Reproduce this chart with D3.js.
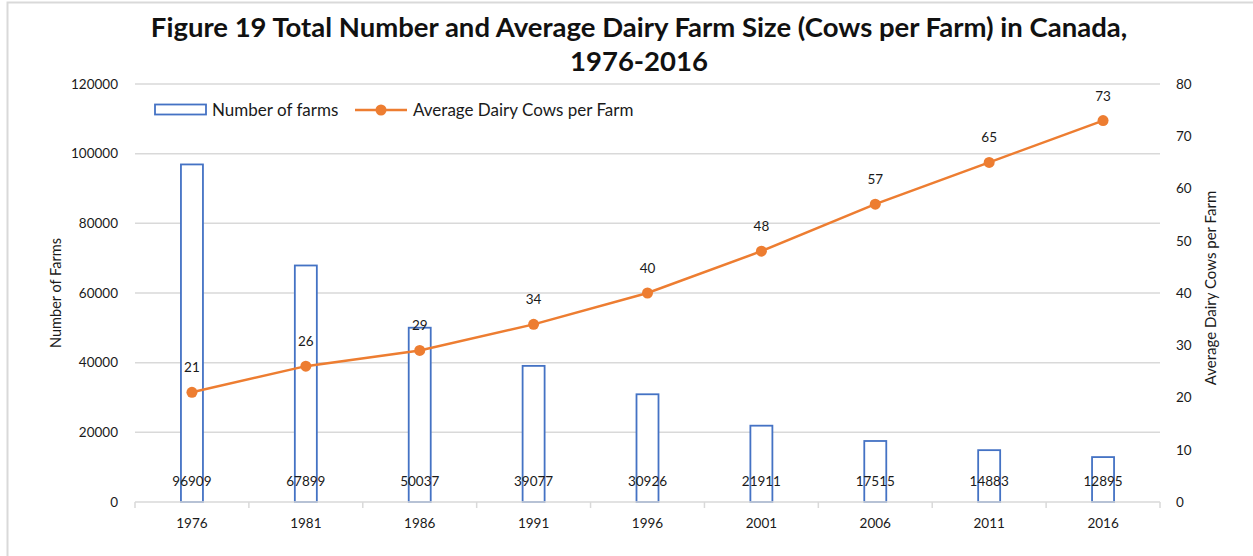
<!DOCTYPE html>
<html>
<head>
<meta charset="utf-8">
<script src="https://cdn.jsdelivr.net/npm/d3@7"></script>
<style>
  html, body { margin: 0; padding: 0; background: #fff; }
  svg { display: block; font-family: Lato, "Open Sans", sans-serif; }
</style>
</head>
<body>
<svg id="chart" width="1253" height="556"></svg>
<script>
// Census years
const years = ["1976", "1981", "1986", "1991", "1996", "2001", "2006", "2011", "2016"];
// Number of dairy farms
const farms = [96909, 67899, 50037, 39077, 30926, 21911, 17515, 14883, 12895];
// Average dairy cows per farm
const cowsPerFarm = [21, 26, 29, 34, 40, 48, 57, 65, 73];
// Axis tick values
const farmTicks = [0, 20000, 40000, 60000, 80000, 100000, 120000];
const cowTicks = [0, 10, 20, 30, 40, 50, 60, 70, 80];

const svg = d3.select("#chart");
const W = 1253, H = 556;
const m = { left: 135, right: 1160, top: 84, bottom: 502 };

const blue = "#4472c4";
const orange = "#ed7d31";
const grid = "#d9d9d9";
const txt = "#1a1a1a";

// outer chart frame
svg.append("rect")
  .attr("x", 7.5).attr("y", 2.5)
  .attr("width", W + 20).attr("height", H + 20)
  .attr("fill", "#fff").attr("stroke", grid).attr("stroke-width", 2);

const x = d3.scaleBand().domain(years).range([m.left, m.right]).padding(0);
const yL = d3.scaleLinear().domain([0, 120000]).range([m.bottom, m.top]);
const yR = d3.scaleLinear().domain([0, 80]).range([m.bottom, m.top]);

// gridlines
svg.append("g")
  .selectAll("line")
  .data(farmTicks.filter(d => d > 0))
  .join("line")
  .attr("x1", m.left).attr("x2", m.right)
  .attr("y1", d => yL(d)).attr("y2", d => yL(d))
  .attr("stroke", grid).attr("stroke-width", 1.5);

// left axis labels
const axL = svg.append("g")
  .attr("transform", `translate(${m.left - 17},0)`)
  .call(d3.axisLeft(yL).tickValues(farmTicks).tickSize(0).tickPadding(0).tickFormat(d3.format("d")));
axL.select(".domain").remove();
axL.selectAll("text").attr("font-size", 13.5).attr("fill", txt).attr("font-family", "Lato, sans-serif");

// right axis labels
const axR = svg.append("g")
  .attr("transform", `translate(${m.right + 16},0)`)
  .call(d3.axisRight(yR).tickValues(cowTicks).tickSize(0).tickPadding(0).tickFormat(d3.format("d")));
axR.select(".domain").remove();
axR.selectAll("text").attr("font-size", 13.5).attr("fill", txt).attr("font-family", "Lato, sans-serif");

// bars
svg.append("g")
  .selectAll("rect")
  .data(years)
  .join("rect")
  .attr("x", (d) => x(d) + x.bandwidth() / 2 - 11)
  .attr("width", 22)
  .attr("y", (d, i) => yL(farms[i]))
  .attr("height", (d, i) => yL(0) - yL(farms[i]))
  .attr("fill", "#fff")
  .attr("stroke", blue).attr("stroke-width", 1.8);

// category axis
const axX = svg.append("g")
  .attr("transform", `translate(0,${m.bottom})`)
  .call(d3.axisBottom(x).tickSize(0).tickPadding(16));
axX.select(".domain").attr("stroke", grid).attr("stroke-width", 1.5).attr("d", `M${m.left},0H${m.right}`);
axX.selectAll("text").attr("font-size", 13.5).attr("fill", txt).attr("font-family", "Lato, sans-serif");
svg.append("g").selectAll("line")
  .data(d3.range(years.length + 1))
  .join("line")
  .attr("x1", i => m.left + i * x.bandwidth()).attr("x2", i => m.left + i * x.bandwidth())
  .attr("y1", m.bottom).attr("y2", m.bottom + 6)
  .attr("stroke", grid).attr("stroke-width", 1.5);

// bar value labels
svg.append("g")
  .selectAll("text")
  .data(years)
  .join("text")
  .attr("x", d => x(d) + x.bandwidth() / 2)
  .attr("y", yL(0) - 16)
  .attr("text-anchor", "middle")
  .attr("font-size", 13.5).attr("fill", txt)
  .text((d, i) => farms[i]);

// average cows line
const line = d3.line()
  .x((d, i) => x(years[i]) + x.bandwidth() / 2)
  .y(d => yR(d));
svg.append("path")
  .datum(cowsPerFarm)
  .attr("d", line)
  .attr("fill", "none").attr("stroke", orange).attr("stroke-width", 2.5);
svg.append("g")
  .selectAll("circle")
  .data(cowsPerFarm)
  .join("circle")
  .attr("cx", (d, i) => x(years[i]) + x.bandwidth() / 2)
  .attr("cy", d => yR(d))
  .attr("r", 5.5)
  .attr("fill", orange);
svg.append("g")
  .selectAll("text")
  .data(cowsPerFarm)
  .join("text")
  .attr("x", (d, i) => x(years[i]) + x.bandwidth() / 2)
  .attr("y", d => yR(d) - 20)
  .attr("text-anchor", "middle")
  .attr("font-size", 13.5).attr("fill", txt)
  .text(d => d);

// axis titles
svg.append("text")
  .attr("transform", `translate(61,${(m.top + m.bottom) / 2}) rotate(-90)`)
  .attr("text-anchor", "middle")
  .attr("font-size", 14.5).attr("fill", txt)
  .text("Number of Farms");
svg.append("text")
  .attr("transform", `translate(1216,${(m.top + m.bottom) / 2 - 5}) rotate(-90)`)
  .attr("text-anchor", "middle")
  .attr("font-size", 15).attr("fill", txt)
  .text("Average Dairy Cows per Farm");

// title
const title = svg.append("text")
  .attr("text-anchor", "middle")
  .attr("font-size", 27.5).attr("font-weight", "bold").attr("fill", "#111");
title.append("tspan").attr("x", 639).attr("y", 37)
  .text("Figure 19 Total Number and Average Dairy Farm Size (Cows per Farm) in Canada,");
title.append("tspan").attr("x", 639).attr("y", 71)
  .text("1976-2016");

// legend
const lg = svg.append("g");
lg.append("rect").attr("x", 155).attr("y", 104.5).attr("width", 51).attr("height", 10)
  .attr("fill", "#fff").attr("stroke", blue).attr("stroke-width", 1.8);
lg.append("text").attr("x", 212).attr("y", 115.5).attr("font-size", 17).attr("fill", txt)
  .text("Number of farms");
lg.append("line").attr("x1", 355).attr("x2", 407).attr("y1", 110).attr("y2", 110)
  .attr("stroke", orange).attr("stroke-width", 2.5);
lg.append("circle").attr("cx", 381).attr("cy", 110).attr("r", 5.5).attr("fill", orange);
lg.append("text").attr("x", 413).attr("y", 115.5).attr("font-size", 17).attr("fill", txt)
  .text("Average Dairy Cows per Farm");
</script>
</body>
</html>
